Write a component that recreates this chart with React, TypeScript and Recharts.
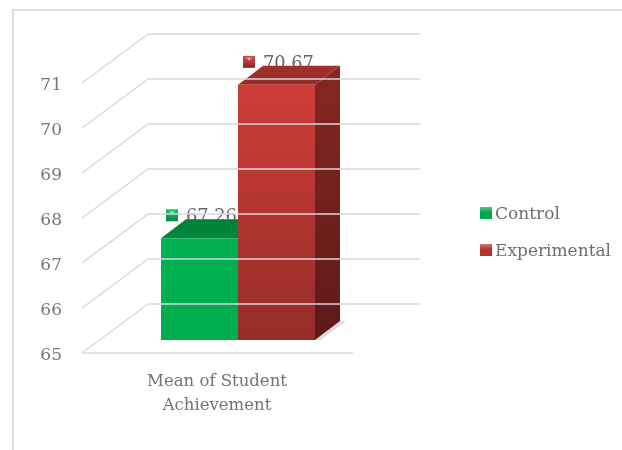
// @ts-nocheck
import { BarChart, Bar, XAxis, YAxis, Legend } from "recharts";

const categories = ["Mean of Student Achievement"];
const controlValues = [67.26];
const experimentalValues = [70.67];
const yTicks = [65, 66, 67, 68, 69, 70, 71];

const data = categories.map((name, i) => ({
  name,
  control: controlValues[i],
  experimental: experimentalValues[i],
}));

const font = "'DejaVu Serif', serif";
const gridColor = "#d9d9d9";
const textColor = "#777777";

// plot area sits on the plane through the middle of the fake 3D floor
const FRONT_DX = -23;
const FRONT_DY = 13;
const BACK_DX = 43;
const BACK_DY = -36;
const WALL_RIGHT = 420;
const DEPTH_X = 25;
const DEPTH_Y = 19;

const WallTick = ({ x, y, payload, index }) => {
  const plotLeft = x + 8;
  const fx = plotLeft + FRONT_DX;
  const fy = y + FRONT_DY;
  const bx = plotLeft + BACK_DX;
  const by = y + BACK_DY;
  return (
    <g>
      <line x1={fx} y1={fy} x2={bx} y2={by} stroke={gridColor} strokeWidth={1.5} />
      <line x1={bx} y1={by} x2={WALL_RIGHT} y2={by} stroke={gridColor} strokeWidth={1.5} />
      {index === 0 && <line x1={fx} y1={fy} x2={353} y2={fy} stroke={gridColor} strokeWidth={1.5} />}
      <text x={62} y={fy + 7} textAnchor="end" fontFamily={font} fontSize={17} fill={textColor}>
        {payload.value}
      </text>
    </g>
  );
};

const CategoryTick = ({ x, y }) => (
  <text textAnchor="middle" fontFamily={font} fontSize={16.5} fill="#737373">
    <tspan x={x - 21} y={y + 38}>Mean of Student</tspan>
    <tspan x={x - 21} y={y + 62}>Achievement</tspan>
  </text>
);

const Marker = ({ x, y, id }) => (
  <g>
    <rect x={x} y={y} width={12} height={12} fill={`url(#${id}-marker)`} />
    <polygon points={`${x + 3},${y + 2} ${x + 9},${y + 2} ${x + 6},${y + 5}`} fill="#fff" opacity={0.5} />
  </g>
);

const makeBox = (id, labelAtLeft) => ({ x, y, width, height, value }) => {
  const right = x + width;
  const bottom = y + height;
  const val = Array.isArray(value) ? value[1] : value;
  return (
    <g>
      <Marker x={x + labelAtLeft} y={y - 29} id={id} />
      <text x={x + labelAtLeft + 20} y={y - 16} fontFamily={font} fontSize={17.8} fill="#666666">
        {val.toFixed(2)}
      </text>
      <polygon
        points={`${right},${bottom} ${right + DEPTH_X},${bottom - DEPTH_Y} ${right + DEPTH_X + 6},${bottom - DEPTH_Y} ${right + 6},${bottom}`}
        fill="#dddddd"
      />
      <polygon
        points={`${x},${y} ${x + DEPTH_X},${y - DEPTH_Y} ${right + DEPTH_X},${y - DEPTH_Y} ${right},${y}`}
        fill={`url(#${id}-top)`}
      />
      <polygon
        points={`${right},${y} ${right + DEPTH_X},${y - DEPTH_Y} ${right + DEPTH_X},${bottom - DEPTH_Y} ${right},${bottom}`}
        fill={`url(#${id}-side)`}
      />
      <rect x={x} y={y} width={width} height={height} fill={`url(#${id}-front)`} />
    </g>
  );
};

const ControlBox = makeBox("control", 5);
const ExperimentalBox = makeBox("experimental", 5);

const LegendBox = ({ payload }) => (
  <div style={{ fontFamily: font, fontSize: 17, color: "#6f6f6f" }}>
    {payload.map((item) => (
      <div key={item.value} style={{ display: "flex", alignItems: "center", height: 37 }}>
        <span
          style={{
            width: 12,
            height: 12,
            marginRight: 3,
            background: `linear-gradient(to bottom, #ffffff55, ${item.color} 45%, ${item.color})`,
            backgroundColor: item.color,
            display: "inline-block",
          }}
        />
        {item.value}
      </div>
    ))}
  </div>
);

const Gradients = () => (
  <defs>
    <linearGradient id="control-front" x1="0" y1="0" x2="0" y2="1">
      <stop offset="0" stopColor="#00b050" />
      <stop offset="1" stopColor="#00ad4e" />
    </linearGradient>
    <linearGradient id="control-top" x1="0" y1="0" x2="0" y2="1">
      <stop offset="0" stopColor="#007f38" />
      <stop offset="1" stopColor="#008a3e" />
    </linearGradient>
    <linearGradient id="control-side" x1="0" y1="0" x2="0" y2="1">
      <stop offset="0" stopColor="#006c30" />
      <stop offset="1" stopColor="#006c30" />
    </linearGradient>
    <linearGradient id="control-marker" x1="0" y1="0" x2="0" y2="1">
      <stop offset="0" stopColor="#14c46a" />
      <stop offset="1" stopColor="#008a40" />
    </linearGradient>
    <linearGradient id="experimental-front" x1="0" y1="0" x2="0" y2="1">
      <stop offset="0" stopColor="#cf3d38" />
      <stop offset="1" stopColor="#952c29" />
    </linearGradient>
    <linearGradient id="experimental-top" x1="0" y1="0" x2="0" y2="1">
      <stop offset="0" stopColor="#a52e2a" />
      <stop offset="1" stopColor="#962a27" />
    </linearGradient>
    <linearGradient id="experimental-side" x1="0" y1="0" x2="0" y2="1">
      <stop offset="0" stopColor="#862722" />
      <stop offset="1" stopColor="#5c1a17" />
    </linearGradient>
    <linearGradient id="experimental-marker" x1="0" y1="0" x2="0" y2="1">
      <stop offset="0" stopColor="#d4524d" />
      <stop offset="1" stopColor="#8a2623" />
    </linearGradient>
  </defs>
);

export default function App() {
  return (
    <div
      style={{
        position: "absolute",
        left: 0,
        top: 0,
        width: 622,
        height: 450,
        background: "#fff",
        filter: "blur(0.5px)",
      }}
    >
      <div
        style={{
          position: "absolute",
          left: 12,
          top: 9,
          width: 610,
          height: 441,
          borderLeft: "2px solid #dedede",
          borderTop: "2px solid #dedede",
          boxSizing: "border-box",
        }}
      />
      <div style={{ position: "absolute", left: 0, top: 0 }}>
        <BarChart
          width={622}
          height={450}
          data={data}
          barGap={0}
          barCategoryGap={0}
          margin={{ top: 70, right: 109, bottom: 0, left: 45 }}
        >
          <Gradients />
          <YAxis
            type="number"
            domain={[65, 71]}
            ticks={yTicks}
            width={60}
            axisLine={false}
            tickLine={false}
            tick={WallTick}
            interval={0}
          />
          <XAxis dataKey="name" axisLine={false} tickLine={false} tick={CategoryTick} height={110} />
          <Bar dataKey="control" name="Control" fill="#00a84c" barSize={77} shape={ControlBox} isAnimationActive={false} />
          <Bar
            dataKey="experimental"
            name="Experimental"
            fill="#b5322e"
            barSize={77}
            shape={ExperimentalBox}
            isAnimationActive={false}
          />
          <Legend
            layout="vertical"
            align="right"
            verticalAlign="top"
            content={LegendBox}
            wrapperStyle={{ left: 480, top: 194, width: 142 }}
          />
        </BarChart>
      </div>
    </div>
  );
}
